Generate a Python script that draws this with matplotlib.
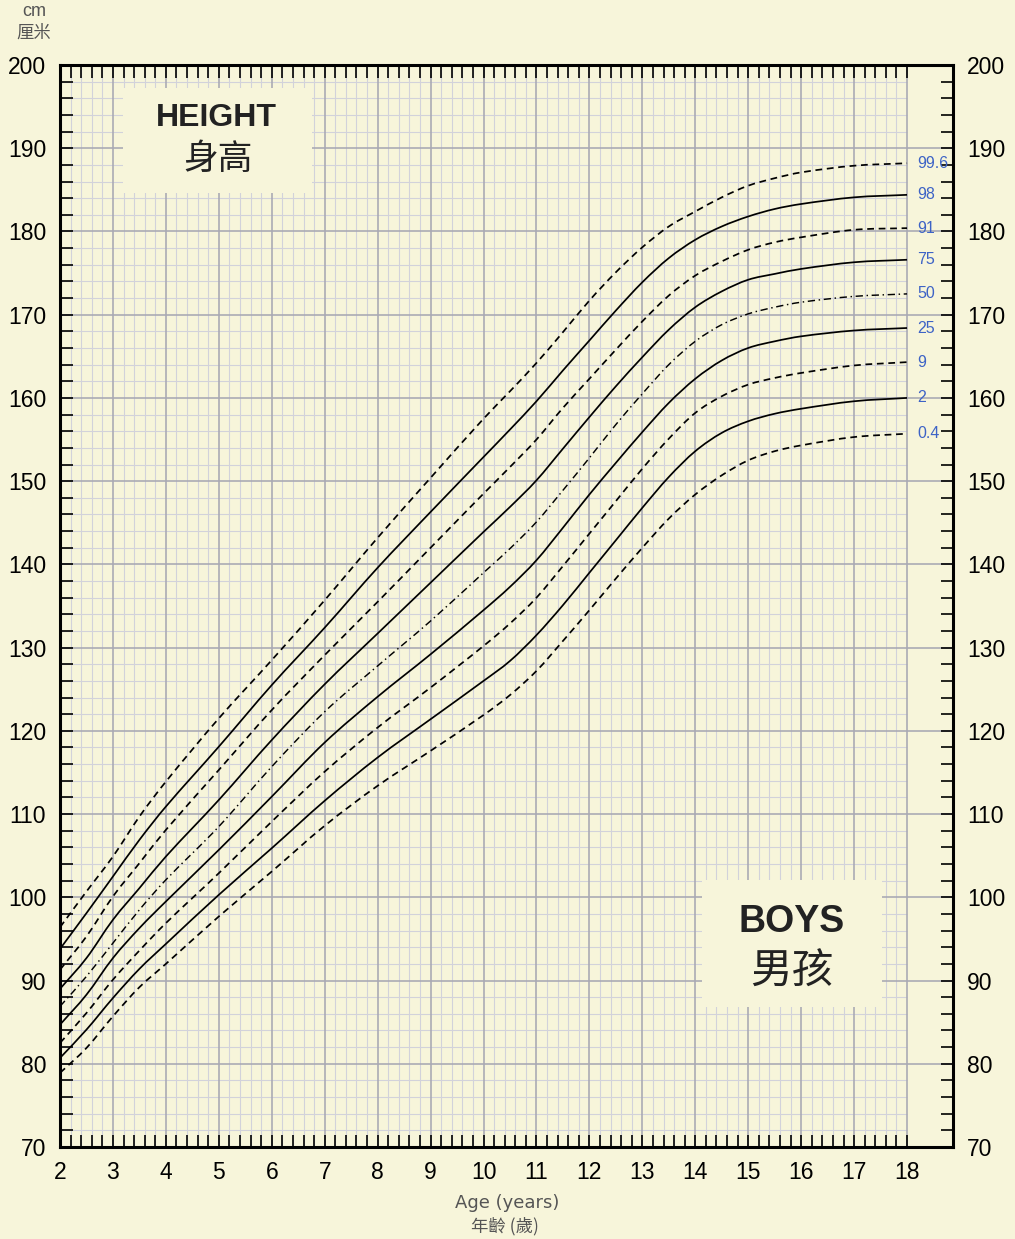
import matplotlib
matplotlib.use("Agg")
import matplotlib.pyplot as plt
from matplotlib.patches import Rectangle, PathPatch
from matplotlib.path import Path
import numpy as np

# ---------------- data ----------------
ages = [2, 2.5, 3, 3.5, 4, 5, 6, 7, 8, 9, 10, 10.5, 11, 11.5, 12, 12.5, 13, 13.5,
        14, 14.5, 15, 15.5, 16, 17, 18]

p996 = [96.4, 100.7, 104.9, 109.7, 113.9, 121.5, 128.5, 135.7, 143.2, 150.4, 157.5, 160.8,
        164.2, 167.9, 171.7, 175.1, 178.1, 180.6, 182.4, 184.1, 185.5, 186.4, 187.1, 187.9, 188.2]
p98 = [93.8, 98.1, 102.5, 106.9, 110.9, 118.1, 125.5, 132.4, 139.6, 146.3, 152.9, 156.2,
       159.6, 163.3, 166.9, 170.5, 173.9, 176.8, 179.0, 180.6, 181.8, 182.7, 183.3, 184.1, 184.4]
p91 = [91.3, 95.3, 100.1, 104.1, 108.1, 115.3, 122.5, 129.1, 135.5, 142.0, 148.5, 151.7,
       155.0, 158.8, 162.3, 165.8, 169.2, 172.3, 174.7, 176.4, 177.8, 178.7, 179.3, 180.2, 180.4]
p75 = [89.0, 92.7, 97.3, 101.1, 104.9, 111.7, 118.9, 125.6, 131.7, 137.8, 143.9, 146.9,
       150.1, 153.9, 157.7, 161.4, 164.9, 168.2, 170.9, 172.8, 174.2, 174.9, 175.5, 176.3, 176.6]
p50 = [86.9, 90.5, 94.5, 98.5, 102.1, 108.5, 115.7, 122.3, 127.8, 133.2, 139.0, 141.9,
       145.1, 148.9, 152.8, 156.8, 160.5, 164.0, 166.8, 168.8, 170.1, 170.9, 171.5, 172.2, 172.5]
p25 = [84.7, 88.3, 92.7, 96.3, 99.5, 105.7, 112.1, 118.6, 124.1, 129.2, 134.5, 137.3,
       140.5, 144.4, 148.4, 152.2, 155.9, 159.4, 162.3, 164.5, 166.0, 166.8, 167.4, 168.1, 168.4]
p9 = [82.5, 86.1, 90.1, 93.6, 96.9, 102.9, 109.1, 115.1, 120.4, 125.2, 130.2, 132.9,
      136.0, 139.8, 143.7, 147.6, 151.5, 155.1, 158.2, 160.2, 161.6, 162.4, 163.0, 163.9, 164.3]
p2 = [80.7, 84.1, 87.9, 91.4, 94.4, 100.3, 105.9, 111.6, 116.8, 121.4, 126.0, 128.4,
      131.5, 135.1, 139.0, 142.9, 146.8, 150.5, 153.6, 155.8, 157.2, 158.1, 158.7, 159.6, 160.0]
p04 = [78.9, 81.9, 85.7, 89.2, 92.0, 97.7, 103.1, 108.6, 113.4, 117.6, 121.9, 124.3,
       127.2, 130.8, 134.5, 138.3, 142.0, 145.5, 148.4, 150.7, 152.5, 153.6, 154.3, 155.3, 155.7]

percentile_labels = ["99.6", "98", "91", "75", "50", "25", "9", "2", "0.4"]
series = [p996, p98, p91, p75, p50, p25, p9, p2, p04]
styles = ["dash", "solid", "dash", "solid", "dashdot", "solid", "dash", "solid", "dash"]

x_ticks = list(range(2, 19))
y_ticks = list(range(70, 201, 10))

# ---------------- styling ----------------
BG = "#f7f5da"
MINOR = "#d2d2da"
MAJOR = "#a8a8b3"
LABEL_BLUE = "#3d63c6"
GREY_TXT = "#555555"

plt.rcParams["font.family"] = ["Liberation Sans", "DejaVu Sans"]
CJK = ["Noto Sans CJK TC", "DejaVu Sans"]

W, H = 1015, 1239
fig = plt.figure(figsize=(W / 100, H / 100), dpi=100, facecolor=BG)
ax = fig.add_axes([60 / W, 92 / H, 893 / W, 1082 / H])
ax.set_facecolor(BG)

XMAX = 2 + (953 - 60) / 52.94
ax.set_xlim(2, XMAX)
ax.set_ylim(70, 200)

# grid
minor_x = [v for v in np.round(np.arange(2.2, 18.001, 0.2), 1) if abs(v - round(v)) > 1e-6]
ax.vlines(minor_x, 70, 200, colors=MINOR, lw=0.8, zorder=1)
ax.vlines(range(3, 19), 70, 200, colors=MAJOR, lw=1.15, zorder=1.2)
minor_y = [v for v in range(72, 200, 2) if v % 10 != 0]
ax.hlines(minor_y, 2, 18, colors=MINOR, lw=0.8, zorder=1)
ax.hlines(range(80, 200, 10), 2, XMAX, colors=MAJOR, lw=1.15, zorder=1.2)


# title boxes (cover the grid)
def px2data(px, py):
    return 2 + (px - 60) / 52.94, 200 - (py - 65) / 8.323


for (x0, y0, x1, y1) in [(123, 88, 312, 193), (702, 880, 882, 1007)]:
    dx0, dy0 = px2data(x0, y1)
    dx1, dy1 = px2data(x1, y0)
    ax.add_patch(Rectangle((dx0, dy0), dx1 - dx0, dy1 - dy0, facecolor=BG,
                           edgecolor="none", zorder=2))


# smooth curve through the read points (cubic Hermite drawn as Bezier path)
def smooth_path(xs, ys):
    xs = np.asarray(xs, float)
    ys = np.asarray(ys, float)
    n = len(xs)
    m = np.zeros(n)
    m[0] = (ys[1] - ys[0]) / (xs[1] - xs[0])
    m[-1] = (ys[-1] - ys[-2]) / (xs[-1] - xs[-2])
    for i in range(1, n - 1):
        m[i] = (ys[i + 1] - ys[i - 1]) / (xs[i + 1] - xs[i - 1])
    verts = [(xs[0], ys[0])]
    codes = [Path.MOVETO]
    for i in range(n - 1):
        h = xs[i + 1] - xs[i]
        verts += [(xs[i] + h / 3, ys[i] + m[i] * h / 3),
                  (xs[i + 1] - h / 3, ys[i + 1] - m[i + 1] * h / 3),
                  (xs[i + 1], ys[i + 1])]
        codes += [Path.CURVE4] * 3
    return Path(verts, codes)


for vals, st, lab in zip(series, styles, percentile_labels):
    if st == "solid":
        kw = dict(lw=1.25, linestyle="-")
    elif st == "dash":
        kw = dict(lw=1.25, linestyle=(0, (3.9, 2.7)))
    else:
        kw = dict(lw=1.05, linestyle=(0, (5, 2.5, 1, 2.5)))
    ax.add_patch(PathPatch(smooth_path(ages, vals), facecolor="none", edgecolor="black",
                           capstyle="butt", zorder=3, **kw))
    ax.text(18.19, vals[-1], lab, color=LABEL_BLUE, fontsize=11.5, va="center", ha="left",
            zorder=4)

# ticks
ax.set_xticks(x_ticks)
ax.set_xticks(np.arange(2, 18.001, 0.2), minor=True)
ax.set_yticks(y_ticks)
ax.set_yticks(range(70, 201, 2), minor=True)
ax.tick_params(axis="both", which="both", direction="in", length=9, width=1.2,
               color="black", top=True, right=True, left=True, bottom=True,
               labelsize=16.5)
ax.tick_params(axis="x", which="both", pad=10)
ax.tick_params(axis="y", which="both", pad=10, labelleft=True, labelright=True)
for s in ax.spines.values():
    s.set_linewidth(2.2)
    s.set_color("black")


# texts
def fx(px):
    return px / W


def fy(py):
    return 1 - py / H


fig.text(fx(34), fy(11), "cm", fontsize=13, color=GREY_TXT, ha="center", va="center")
fig.text(fx(34), fy(33), "厘米", fontsize=12.5, color=GREY_TXT, ha="center", va="center",
         family=CJK)
fig.text(fx(507), fy(1203), "Age (years)", fontsize=13, color=GREY_TXT, ha="center",
         va="center", family=["DejaVu Sans"])
fig.text(fx(505), fy(1226), "年齡 (歲)", fontsize=12.5, color=GREY_TXT, ha="center",
         va="center", family=CJK)

fig.text(fx(216), fy(118), "HEIGHT", fontsize=23, fontweight="bold", color="#222222",
         ha="center", va="center")
fig.text(fx(218), fy(160), "身高", fontsize=25, color="#222222", ha="center", va="center",
         family=CJK, fontweight="medium")
fig.text(fx(792), fy(922), "BOYS", fontsize=27, fontweight="bold", color="#222222",
         ha="center", va="center")
fig.text(fx(792), fy(972), "男孩", fontsize=30, color="#222222", ha="center", va="center",
         family=CJK, fontweight="medium")

fig.savefig("out.png", dpi=100, facecolor=BG)
